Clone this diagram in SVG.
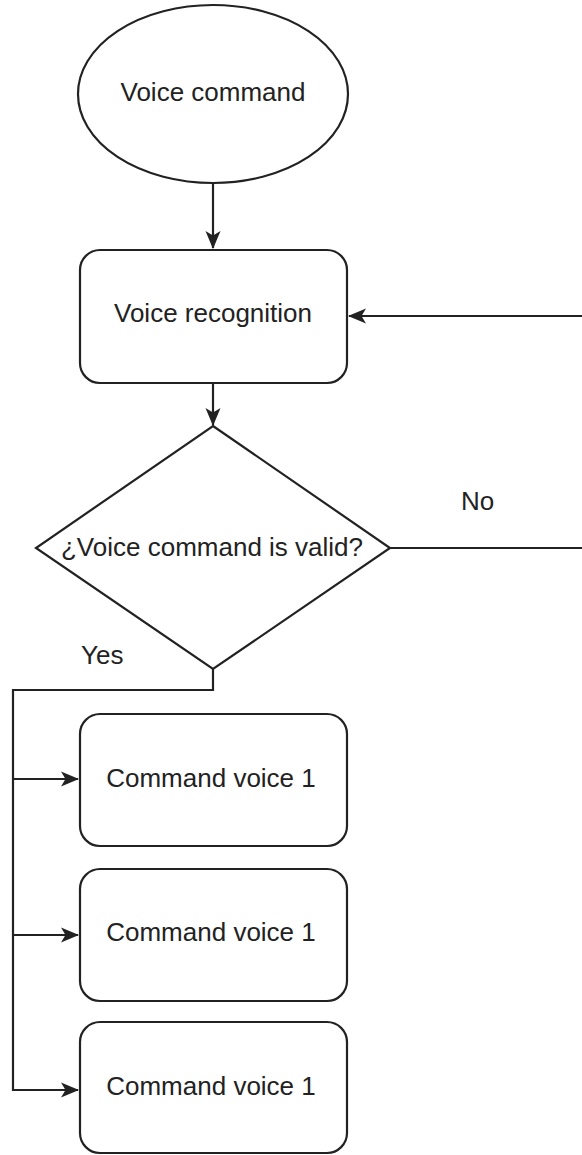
<svg xmlns="http://www.w3.org/2000/svg" width="582" height="1155" viewBox="0 0 582 1155">
<style>
.shape{fill:#fff;stroke:#222;stroke-width:2.2}
.edge{fill:none;stroke:#222;stroke-width:2.2}
.lbl{font-family:"Liberation Sans",Arial,sans-serif;font-size:26px;fill:#222}
.c{text-anchor:middle}
</style>
<defs>
<marker id="arr" markerWidth="20" markerHeight="18" refX="17" refY="9" orient="auto" markerUnits="userSpaceOnUse">
<path d="M0,1.5 L18,9 L0,16.5 L4.5,9 Z" fill="#222"/>
</marker>
</defs>
<rect width="582" height="1155" fill="#fff"/>
<g id="connectors">
<path class="edge" d="M213,183 V248" marker-end="url(#arr)"/>
<path class="edge" d="M213,383 V425" marker-end="url(#arr)"/>
<path class="edge" d="M390,548 H600 V316 H349" marker-end="url(#arr)"/>
<path class="edge" d="M213,669 V690 H13 V1090 H78" marker-end="url(#arr)"/>
<path class="edge" d="M13,779 H78" marker-end="url(#arr)"/>
<path class="edge" d="M13,935 H78" marker-end="url(#arr)"/>
<text class="lbl" x="461" y="510">No</text>
<text class="lbl" x="81" y="664">Yes</text>
</g>
<g id="start">
<ellipse class="shape" cx="213" cy="94" rx="135" ry="89"/>
<text class="lbl c" x="213" y="101">Voice command</text>
</g>
<g id="recognition">
<rect class="shape" x="80" y="250" width="267" height="133" rx="20"/>
<text class="lbl c" x="213" y="322">Voice recognition</text>
</g>
<g id="decision">
<polygon class="shape" points="213,426 390,548 213,669 36,548"/>
<text class="lbl c" x="212" y="556">¿Voice command is valid?</text>
</g>
<g id="cmd1">
<rect class="shape" x="80" y="714" width="267" height="132" rx="20"/>
<text class="lbl c" x="211" y="787">Command voice 1</text>
</g>
<g id="cmd2">
<rect class="shape" x="80" y="869" width="267" height="132" rx="20"/>
<text class="lbl c" x="211" y="941">Command voice 1</text>
</g>
<g id="cmd3">
<rect class="shape" x="80" y="1022" width="267" height="131" rx="20"/>
<text class="lbl c" x="211" y="1095">Command voice 1</text>
</g>
</svg>
